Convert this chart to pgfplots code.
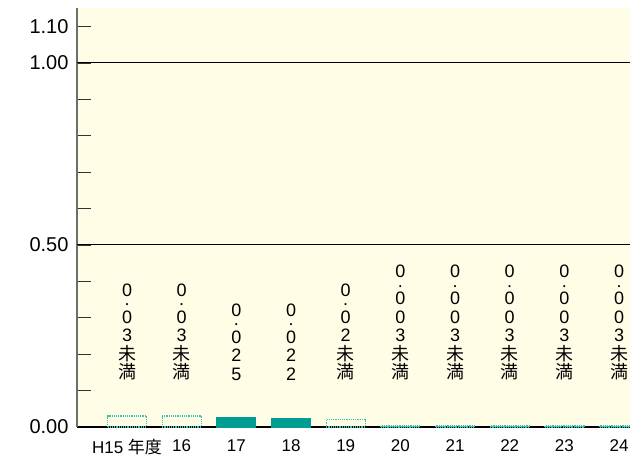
\documentclass[border=0pt]{standalone}
\usepackage{pgfplots}
\pgfplotsset{compat=1.18}
\usepackage{fontspec}
\setmainfont{Liberation Sans}
\newfontfamily\cjk{Noto Sans CJK JP}
\definecolor{bgcream}{HTML}{FFFDE6}
\definecolor{barteal}{HTML}{009E92}
\definecolor{dotteal}{HTML}{3CC2B4}
\definecolor{axgray}{HTML}{6E6E6E}
\newcommand{\dt}{\\[-5pt]·\\[-5pt]}
\tikzset{vlab/.style={anchor=south, align=center, inner sep=0pt, font=\fontsize{18}{18.5}\selectfont}}
\begin{document}
\begin{tikzpicture}
\begin{axis}[
    scale only axis,
    width=553pt, height=419pt,
    xmin=-0.915, xmax=9.2,
    ymin=0, ymax=1.151,
    axis background/.style={fill=bgcream},
    axis x line=bottom, axis y line=left,
    x axis line style={-, black, line width=1.4pt},
    y axis line style={-, axgray, line width=2pt},
    xtick={0,...,9},
    xticklabels={H15 {\cjk 年度},16,17,18,19,20,21,22,23,24},
    x tick style={draw=none},
    xticklabel style={font=\fontsize{17}{17}\selectfont, yshift=5pt},
    ytick={0,0.1,...,1.1},
    yticklabels={0.00,,,,,0.50,,,,,1.00,1.10},
    y tick style={black!80, line width=1.3pt},
    major tick length=14pt,
    tick align=inside,
    yticklabel style={font=\fontsize{20}{20}\selectfont, xshift=-5pt},
    extra y ticks={0.5,1.0},
    extra y tick labels={},
    extra y tick style={grid=major, major grid style={black, line width=1pt}, major tick length=0pt},
    ybar, bar width=39pt, bar shift=0pt,
    clip=false,
]
% measured values (filled)
\addplot[fill=barteal, draw=barteal, line width=0pt]
    coordinates {(2,0.025)(3,0.022)};
% below detection limit (dotted outline)
\addplot[fill=none, draw=dotteal, densely dotted, line width=1.2pt]
    coordinates {(0,0.03)(1,0.03)(4,0.02)(5,0.003)(6,0.003)(7,0.003)(8,0.003)(9,0.003)};

\node[vlab] at (axis cs:0,0.128) {0\dt 0\\3\\{\cjk 未}\\{\cjk 満}};
\node[vlab] at (axis cs:1,0.128) {0\dt 0\\3\\{\cjk 未}\\{\cjk 満}};
\node[vlab] at (axis cs:2,0.128) {0\dt 0\\2\\5};
\node[vlab] at (axis cs:3,0.128) {0\dt 0\\2\\2};
\node[vlab] at (axis cs:4,0.128) {0\dt 0\\2\\{\cjk 未}\\{\cjk 満}};
\node[vlab] at (axis cs:5,0.128) {0\dt 0\\0\\3\\{\cjk 未}\\{\cjk 満}};
\node[vlab] at (axis cs:6,0.128) {0\dt 0\\0\\3\\{\cjk 未}\\{\cjk 満}};
\node[vlab] at (axis cs:7,0.128) {0\dt 0\\0\\3\\{\cjk 未}\\{\cjk 満}};
\node[vlab] at (axis cs:8,0.128) {0\dt 0\\0\\3\\{\cjk 未}\\{\cjk 満}};
\node[vlab] at (axis cs:9,0.128) {0\dt 0\\0\\3\\{\cjk 未}\\{\cjk 満}};
\end{axis}
\pgfresetboundingbox
\path (current axis.south west) ++(-77pt,-28pt) coordinate (bbA);
\path (current axis.north east) ++(0pt,8pt) coordinate (bbB);
\path[use as bounding box] (bbA) rectangle (bbB);
\end{tikzpicture}
\end{document}
